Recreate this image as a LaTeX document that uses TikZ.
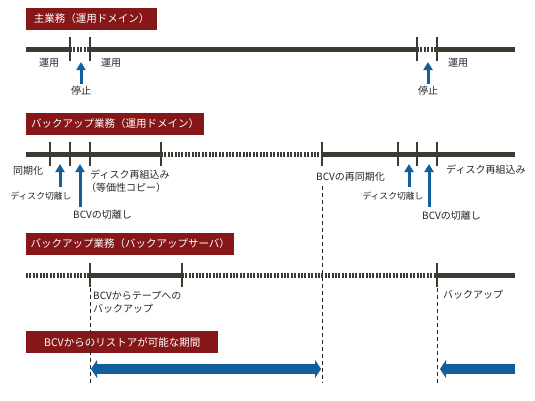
\documentclass[tikz,border=0pt]{standalone}
\usepackage{fontspec}
\setmainfont{Noto Sans CJK JP}
\usetikzlibrary{arrows.meta}
\definecolor{hdr}{HTML}{861719}
\definecolor{tl}{HTML}{3B3A33}
\definecolor{ab}{HTML}{135F9C}
\begin{document}
\begin{tikzpicture}[x=1pt,y=-1pt,
  hdrbox/.style={fill=hdr, text=white, font=\fontsize{10.5}{12}\selectfont, anchor=west, minimum height=22pt, inner xsep=0pt, inner ysep=0pt},
  lbl/.style={font=\fontsize{10}{13}\selectfont, inner sep=0pt, text=black!85},
  slbl/.style={font=\fontsize{8.8}{11}\selectfont, inner sep=0pt, text=black!85},
  solidseg/.style={draw=tl, line width=5pt},
  dotseg/.style={draw=tl, line width=5pt, dash pattern=on 2pt off 1.4pt},
  tickmark/.style={draw=tl, line width=2.6pt},
  upar/.style={draw=ab, line width=3pt, -{Triangle[width=9pt,length=8pt]}},
  bigar/.style={draw=ab, line width=10pt},
  vdash/.style={draw=black!85, line width=0.7pt, dash pattern=on 4pt off 3pt}]
\useasboundingbox (0,0) rectangle (535,400);

% ---------- headers
\node[hdrbox, minimum width=131pt] (h1) at (26,19) {主業務（運用ドメイン）};
\node[hdrbox, minimum width=178pt] (h2) at (26,123.5) {バックアップ業務（運用ドメイン）};
\node[hdrbox, minimum width=208pt] (h3) at (26,244) {バックアップ業務（バックアップサーバ）};
\node[hdrbox, minimum width=192pt] (h4) at (26,342) {BCVからのリストアが可能な期間};

% ---------- row 1
\foreach \n/\x in {a/26,b/70,c/90,d/417,e/437,f/515} \coordinate (r1\n) at (\x,49);
\draw[solidseg] (r1a) -- (r1b);
\draw[dotseg] (r1b) -- (r1c);
\draw[solidseg] (r1c) -- (r1d);
\draw[dotseg] (r1d) -- (r1e);
\draw[solidseg] (r1e) -- (r1f);
\foreach \n in {b,c,d,e} \draw[tickmark] ([yshift=-12pt]r1\n) -- ([yshift=12pt]r1\n);
\node[lbl] (u1) at (49,63) {運用};
\node[lbl] (u2) at (111,63) {運用};
\node[lbl] (u3) at (458,63) {運用};
\node[lbl] (s1) at (81,91) {停止};
\node[lbl] (s2) at (428,91) {停止};
\coordinate (a1b) at (81,84); \coordinate (a1t) at (81,62);
\coordinate (a2b) at (428,84); \coordinate (a2t) at (428,62);
\draw[upar] (a1b) -- (a1t);
\draw[upar] (a2b) -- (a2t);

% ---------- row 2
\foreach \n/\x in {a/26,b/50,c/70,d/90,e/161,f/322,g/398,h/417,i/437,j/515} \coordinate (r2\n) at (\x,154);
\draw[solidseg] (r2a) -- (r2e);
\draw[dotseg] (r2e) -- (r2f);
\draw[solidseg] (r2f) -- (r2j);
\foreach \n in {b,c,d,e,f,g,h,i} \draw[tickmark] ([yshift=-12pt]r2\n) -- ([yshift=12pt]r2\n);
\node[lbl] (sy) at (28,171) {同期化};
\node[slbl] (dk1) at (41,196) {ディスク切離し};
\node[lbl, anchor=west] (bk1) at (73,215) {BCVの切離し};
\node[lbl, anchor=north west, align=left] (dr1) at (90,169.5) {ディスク再組込み\\\hspace*{-4pt}（等価性コピー）};
\node[lbl, anchor=west] (rs) at (316,177) {BCVの再同期化};
\node[slbl] (dk2) at (393,196) {ディスク切離し};
\node[lbl, anchor=west] (bk2) at (422,216) {BCVの切離し};
\node[lbl, anchor=west] (dr2) at (446,170) {ディスク再組込み};
\foreach \n/\x/\yb in {p/60/187,q/80/207,r/409/187,s/429/207} {
  \coordinate (ar\n b) at (\x,\yb); \coordinate (ar\n t) at (\x,164);
  \draw[upar] (ar\n b) -- (ar\n t);
}

% ---------- row 3
\foreach \n/\x in {a/26,b/90,c/182,d/437,e/515} \coordinate (r3\n) at (\x,275);
\draw[dotseg] (r3a) -- (r3b);
\draw[solidseg] (r3b) -- (r3c);
\draw[dotseg] (r3c) -- (r3d);
\draw[solidseg] (r3d) -- (r3e);
\foreach \n in {b,c,d} \draw[tickmark] ([yshift=-12pt]r3\n) -- ([yshift=12pt]r3\n);
\node[lbl, anchor=north west, align=left] (bt) at (93,290.5) {BCVからテープへの\\バックアップ};
\node[lbl, anchor=west] (bu) at (443,295) {バックアップ};

% ---------- dashed verticals
\coordinate (v1t) at (90,288); \coordinate (v1b) at (90,383);
\coordinate (v2t) at (322,186); \coordinate (v2b) at (322,383);
\coordinate (v3t) at (437,288); \coordinate (v3b) at (437,383);
\draw[vdash] (v1t) -- (v1b);
\draw[vdash] (v2t) -- (v2b);
\draw[vdash] (v3t) -- (v3b);

% ---------- restore periods
\coordinate (p1) at (91,369); \coordinate (p2) at (321,369);
\coordinate (p3) at (440,369); \coordinate (p4) at (515,369);
\draw[bigar, {Triangle[width=18pt,length=6pt]}-{Triangle[width=18pt,length=6pt]}] (p1) -- (p2);
\draw[bigar, {Triangle[width=18pt,length=6pt]}-] (p3) -- (p4);
\end{tikzpicture}
\end{document}
